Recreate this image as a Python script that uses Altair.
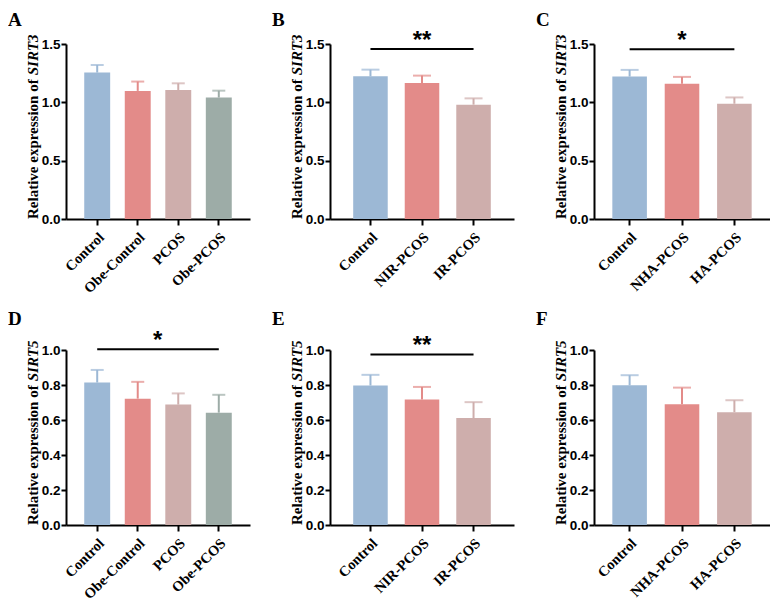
import altair as alt
import pandas as pd

# ---------------- data ----------------
cats_obe = ["Control", "Obe-Control", "PCOS", "Obe-PCOS"]
cats_ir = ["Control", "NIR-PCOS", "IR-PCOS"]
cats_ha = ["Control", "NHA-PCOS", "HA-PCOS"]

a_mean = [1.255, 1.098, 1.106, 1.041]
a_upper = [1.320, 1.178, 1.163, 1.100]
b_mean = [1.223, 1.166, 0.980]
b_upper = [1.280, 1.229, 1.034]
c_mean = [1.221, 1.159, 0.988]
c_upper = [1.278, 1.218, 1.042]
d_mean = [0.814, 0.722, 0.688, 0.642]
d_upper = [0.886, 0.818, 0.752, 0.744]
e_mean = [0.797, 0.717, 0.611]
e_upper = [0.858, 0.789, 0.702]
f_mean = [0.798, 0.690, 0.645]
f_upper = [0.856, 0.785, 0.713]

sirt3_ticks = [0, 0.5, 1.0, 1.5]
sirt5_ticks = [0, 0.2, 0.4, 0.6, 0.8, 1.0]

b_sig = 1.457
c_sig = 1.455
d_sig = 1.004
e_sig = 0.975

colors = ["#9CB8D5", "#E38B89", "#CEAEAC", "#9DACA7"]

SERIF = "Liberation Serif"
SANS = "Liberation Sans"
H = 175
TITLE_FS = 15

# Times/Liberation Serif bold advance widths (per 1000 em)
_w = {"R": 722, "e": 444, "l": 278, "a": 500, "t": 333, "i": 278, "v": 500,
      " ": 250, "x": 500, "p": 556, "r": 444, "s": 389, "o": 500, "n": 556, "f": 333}
TITLE_MAIN = "Relative expression of "
main_w = sum(_w[ch] for ch in TITLE_MAIN) / 1000 * TITLE_FS


def panel(letter, gene, cats, mean, upper, ymax, ticks, width, sig=None,
          stars="", star_cat=None, star_dx=0, cap=13, pin=0.36, pout=0.45,
          letter_dy=-18):
    df = pd.DataFrame({"cat": cats, "mean": mean, "upper": upper})
    one = pd.DataFrame({"k": [0]})
    ysc = alt.Scale(domain=[0, ymax], nice=False, zero=True)
    xsc = alt.Scale(domain=cats, paddingInner=pin, paddingOuter=pout)
    csc = alt.Scale(domain=cats, range=colors[:len(cats)])

    xax = alt.Axis(labelAngle=-45, labelFont=SERIF, labelFontSize=14.5,
                   labelFontWeight="bold", labelColor="black", domainColor="black",
                   domainWidth=2, tickColor="black", tickWidth=2, tickSize=6,
                   labelPadding=5, title=None, grid=False)
    yax = alt.Axis(values=ticks, tickCount=len(ticks), labelOverlap=False,
                   format=".1f", labelFont=SANS, labelFontSize=13.5,
                   labelFontWeight="bold", labelColor="black", domainColor="black",
                   domainWidth=2, tickColor="black", tickWidth=2, tickSize=5,
                   labelPadding=1, title=None, grid=False)

    base = alt.Chart(df)
    bars = base.mark_bar().encode(
        x=alt.X("cat:N", scale=xsc, axis=xax, sort=cats),
        y=alt.Y("mean:Q", scale=ysc, axis=yax),
        color=alt.Color("cat:N", scale=csc, legend=None),
    )
    stem = base.mark_rule(strokeWidth=2).encode(
        x=alt.X("cat:N", scale=xsc, sort=cats),
        y=alt.Y("mean:Q", scale=ysc),
        y2="upper:Q",
        color=alt.Color("cat:N", scale=csc, legend=None),
    )
    capm = base.mark_tick(thickness=2, size=cap).encode(
        x=alt.X("cat:N", scale=xsc, sort=cats),
        y=alt.Y("upper:Q", scale=ysc),
        color=alt.Color("cat:N", scale=csc, legend=None),
    )
    layers = [bars, stem, capm]

    if sig is not None:
        sdf = pd.DataFrame({"x1": [cats[0]], "x2": [cats[-1]], "y": [sig],
                            "mid": [star_cat], "t": [stars]})
        line = alt.Chart(sdf).mark_rule(strokeWidth=2, color="black").encode(
            x=alt.X("x1:N", scale=xsc, sort=cats),
            x2="x2:N",
            y=alt.Y("y:Q", scale=ysc),
        )
        st = alt.Chart(sdf).mark_text(font=SANS, fontSize=24, fontWeight="bold",
                                      color="black", baseline="alphabetic",
                                      dy=-1, dx=star_dx).encode(
            x=alt.X("mid:N", scale=xsc, sort=cats),
            y=alt.Y("y:Q", scale=ysc),
            text="t:N",
        )
        layers += [line, st]

    t1 = alt.Chart(one).mark_text(text=TITLE_MAIN, angle=270, align="left",
                                  baseline="alphabetic", font=SERIF,
                                  fontSize=TITLE_FS, fontWeight="bold",
                                  color="black").encode(
        x=alt.value(-28), y=alt.value(H))
    t2 = alt.Chart(one).mark_text(text=gene, angle=270, align="left",
                                  baseline="alphabetic", font=SERIF,
                                  fontSize=TITLE_FS, fontWeight="bold",
                                  fontStyle="italic", color="black").encode(
        x=alt.value(-28), y=alt.value(H - main_w))
    lt = alt.Chart(one).mark_text(text=letter, align="left", baseline="alphabetic",
                                  font=SERIF, fontSize=19, fontWeight="bold",
                                  color="black").encode(
        x=alt.value(-58), y=alt.value(letter_dy))
    layers += [t1, t2, lt]
    return alt.layer(*layers).properties(width=width, height=H)


pA = panel("A", "SIRT3", cats_obe, a_mean, a_upper, 1.5, sirt3_ticks, 184)
pB = panel("B", "SIRT3", cats_ir, b_mean, b_upper, 1.5, sirt3_ticks, 184,
           sig=b_sig, stars="**", star_cat="NIR-PCOS", cap=18, pin=0.33, pout=0.45)
pC = panel("C", "SIRT3", cats_ha, c_mean, c_upper, 1.5, sirt3_ticks, 176,
           sig=c_sig, stars="*", star_cat="NHA-PCOS", cap=18, pin=0.34, pout=0.35)
pD = panel("D", "SIRT5", cats_obe, d_mean, d_upper, 1.0, sirt5_ticks, 184,
           sig=d_sig, stars="*", star_cat="Obe-Control", star_dx=20, letter_dy=-25)
pE = panel("E", "SIRT5", cats_ir, e_mean, e_upper, 1.0, sirt5_ticks, 184,
           sig=e_sig, stars="**", star_cat="NIR-PCOS", cap=18, pin=0.33, pout=0.45,
           letter_dy=-25)
pF = panel("F", "SIRT5", cats_ha, f_mean, f_upper, 1.0, sirt5_ticks, 176,
           cap=18, pin=0.34, pout=0.35, letter_dy=-25)

chart = alt.concat(pA, pB, pC, pD, pE, pF, columns=3,
                   spacing={"row": 131, "column": 80}, bounds="flush").resolve_scale(
    x="independent", y="independent", color="independent"
).properties(
    padding={"top": 3, "left": 0, "right": 0, "bottom": 0},
    background="white",
).configure_view(stroke=None)

chart.save("out.html", embed_options={"renderer": "svg", "actions": False})
